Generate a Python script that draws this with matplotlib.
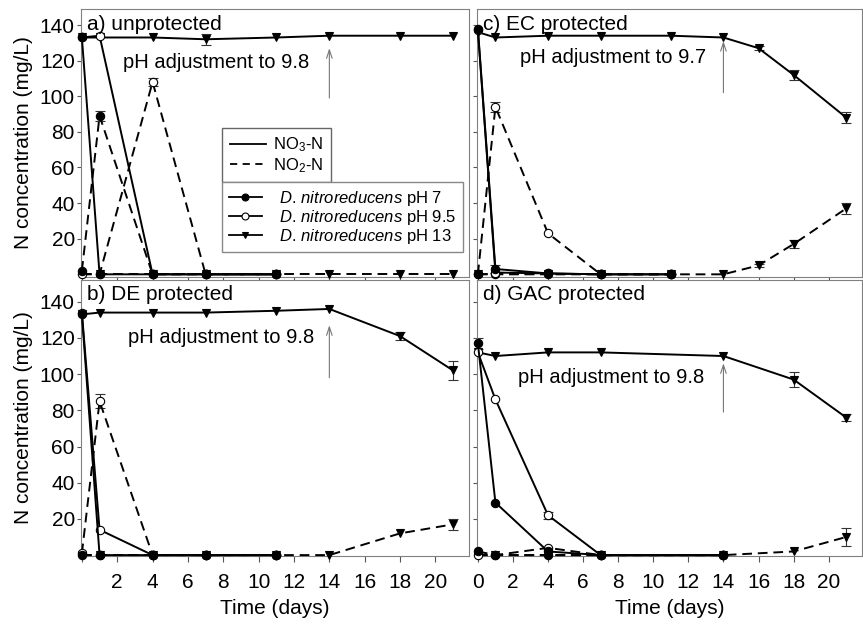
import matplotlib.pyplot as plt
from matplotlib.lines import Line2D

plt.rcParams['font.family'] = ['Liberation Sans', 'DejaVu Sans']
plt.rcParams['mathtext.fontset'] = 'custom'
plt.rcParams['mathtext.rm'] = 'Liberation Sans'
plt.rcParams['mathtext.it'] = 'Liberation Sans:italic'

# ---- data (mg/L) ----
# a) unprotected
a_days = [0, 1, 4, 7, 11]
a_days13 = [0, 1, 4, 7, 11, 14, 18, 21]
a_no3_ph7 = [133, 0, 0, 0, 0]
a_no2_ph7 = [2, 89, 0, 0, 0]
a_no2_ph7_err = [0, 3, 0, 0, 0]
a_no3_ph95 = [133, 134, 0, 0, 0]
a_no2_ph95 = [0, 0, 108, 0, 0]
a_no2_ph95_err = [0, 0, 2, 0, 0]
a_no3_ph13 = [133, 133, 133, 132, 133, 134, 134, 134]
a_no3_ph13_err = [0, 0, 0, 3, 0, 0, 0, 0]
a_no2_ph13 = [0, 0, 0, 0, 0, 0, 0, 0]

# b) DE protected
b_days = [0, 1, 4, 7, 11]
b_days13 = [0, 1, 4, 7, 11, 14, 18, 21]
b_no3_ph7 = [133, 0, 0, 0, 0]
b_no2_ph7 = [0, 0, 0, 0, 0]
b_no3_ph95 = [134, 14, 0, 0, 0]
b_no2_ph95 = [1, 85, 0, 0, 0]
b_no2_ph95_err = [0, 4, 0, 0, 0]
b_no3_ph13 = [133, 134, 134, 134, 135, 136, 121, 102]
b_no3_ph13_err = [0, 0, 0, 0, 0, 0, 2, 5]
b_no2_ph13 = [0, 0, 0, 0, 0, 0, 12, 17]
b_no2_ph13_err = [0, 0, 0, 0, 0, 0, 0, 3]

# c) EC protected
c_days = [0, 1, 4, 7, 11]
c_days13 = [0, 1, 4, 7, 11, 14, 16, 18, 21]
c_no3_ph7 = [138, 3, 0.5, 0, 0]
c_no3_ph7_err = [0, 2, 0, 0, 0]
c_no2_ph7 = [0, 0, 0, 0, 0]
c_no3_ph95 = [137, 1, 0.5, 0, 0]
c_no2_ph95 = [0, 94, 23, 0, 0]
c_no2_ph95_err = [0, 3, 0, 0, 0]
c_no3_ph13 = [136, 133, 134, 134, 134, 133, 127, 112, 88]
c_no3_ph13_err = [0, 0, 0, 0, 0, 0, 1, 3, 3]
c_no2_ph13 = [0, 0, 0, 0, 0, 0, 5, 17, 37]
c_no2_ph13_err = [0, 0, 0, 0, 0, 0, 1, 2, 3]

# d) GAC protected
d_days = [0, 1, 4, 7, 14]
d_days13 = [0, 1, 4, 7, 14, 18, 21]
d_no3_ph7 = [117, 29, 2, 0, 0]
d_no3_ph7_err = [3, 0, 0, 0, 0]
d_no2_ph7 = [2, 0, 0, 0, 0]
d_no3_ph95 = [112, 86, 22, 0, 0]
d_no3_ph95_err = [0, 0, 2, 0, 0]
d_no2_ph95 = [0, 0, 4, 0, 0]
d_no3_ph13 = [112, 110, 112, 112, 110, 97, 76]
d_no3_ph13_err = [0, 0, 0, 0, 0, 4, 2]
d_no2_ph13 = [0, 0, 0, 0, 0, 2, 10]
d_no2_ph13_err = [0, 0, 0, 0, 0, 0, 5]

titles = ['a) unprotected', 'b) DE protected', 'c) EC protected', 'd) GAC protected']
notes = ['pH adjustment to 9.8', 'pH adjustment to 9.8', 'pH adjustment to 9.7', 'pH adjustment to 9.8']
note_xy = [(2.35, 119), (2.6, 120), (2.4, 122), (2.3, 98)]
arrow_y = [(99, 127), (98, 127), (102, 131), (79, 106)]
x_ticks = list(range(0, 21, 2))

DASH = (0, (5, 3))
STYLE = {'ph7': ('o', 'black'), 'ph95': ('o', 'white'), 'ph13': ('v', 'black')}


def plot_series(ax, t, y, ls, kind, err=None):
    marker, face = STYLE[kind]
    if err is not None:
        te = [ti for ti, e in zip(t, err) if e > 0]
        ye = [yi for yi, e in zip(y, err) if e > 0]
        ee = [e for e in err if e > 0]
        ax.errorbar(te, ye, yerr=ee, fmt='none', ecolor='#333333',
                    elinewidth=0.8, capsize=3.5, capthick=0.8, zorder=2)
    ax.plot(t, y, color='black', lw=1.4, ls=ls, marker=marker, ms=6,
            mfc=face, mec='black', mew=0.8, clip_on=False, zorder=3)


fig = plt.figure(figsize=(8.63, 6.24), dpi=100)
W, H = 863.0, 624.0
ax_a = fig.add_axes([81 / W, 1 - 277 / H, 388 / W, 268 / H])
ax_c = fig.add_axes([477 / W, 1 - 277 / H, 385 / W, 268 / H])
ax_b = fig.add_axes([81 / W, 1 - 556 / H, 388 / W, 276 / H])
ax_d = fig.add_axes([477 / W, 1 - 556 / H, 385 / W, 276 / H])

# a
plot_series(ax_a, a_days13, a_no2_ph13, DASH, 'ph13')
plot_series(ax_a, a_days13, a_no3_ph13, '-', 'ph13', a_no3_ph13_err)
plot_series(ax_a, a_days, a_no2_ph95, DASH, 'ph95', a_no2_ph95_err)
plot_series(ax_a, a_days, a_no2_ph7, DASH, 'ph7', a_no2_ph7_err)
plot_series(ax_a, a_days, a_no3_ph95, '-', 'ph95')
plot_series(ax_a, a_days, a_no3_ph7, '-', 'ph7')

# b
plot_series(ax_b, b_days13, b_no2_ph13, DASH, 'ph13', b_no2_ph13_err)
plot_series(ax_b, b_days13, b_no3_ph13, '-', 'ph13', b_no3_ph13_err)
plot_series(ax_b, b_days, b_no2_ph95, DASH, 'ph95', b_no2_ph95_err)
plot_series(ax_b, b_days, b_no2_ph7, DASH, 'ph7')
plot_series(ax_b, b_days, b_no3_ph95, '-', 'ph95')
plot_series(ax_b, b_days, b_no3_ph7, '-', 'ph7')

# c
plot_series(ax_c, c_days13, c_no2_ph13, DASH, 'ph13', c_no2_ph13_err)
plot_series(ax_c, c_days13, c_no3_ph13, '-', 'ph13', c_no3_ph13_err)
plot_series(ax_c, c_days, c_no2_ph95, DASH, 'ph95', c_no2_ph95_err)
plot_series(ax_c, c_days, c_no2_ph7, DASH, 'ph7')
plot_series(ax_c, c_days, c_no3_ph95, '-', 'ph95')
plot_series(ax_c, c_days, c_no3_ph7, '-', 'ph7', c_no3_ph7_err)

# d
plot_series(ax_d, d_days13, d_no2_ph13, DASH, 'ph13', d_no2_ph13_err)
plot_series(ax_d, d_days13, d_no3_ph13, '-', 'ph13', d_no3_ph13_err)
plot_series(ax_d, d_days, d_no2_ph95, DASH, 'ph95')
plot_series(ax_d, d_days, d_no2_ph7, DASH, 'ph7')
plot_series(ax_d, d_days, d_no3_ph95, '-', 'ph95', d_no3_ph95_err)
plot_series(ax_d, d_days, d_no3_ph7, '-', 'ph7', d_no3_ph7_err)

for i, ax in enumerate([ax_a, ax_b, ax_c, ax_d]):
    top = i in (0, 2)
    ax.set_xlim(-0.05, 21.9)
    ax.set_ylim((-1.5, 149) if top else (-0.5, 152))
    ax.set_xticks(x_ticks)
    ax.set_yticks(range(20, 141, 20))
    for s in ax.spines.values():
        s.set_color('#808080')
        s.set_linewidth(0.8)
    ax.tick_params(axis='x', direction='out', length=4, width=0.8,
                   color='#555555', labelsize=15, pad=8)
    ax.tick_params(axis='y', direction='out', length=3, width=0.8,
                   color='#555555', labelsize=15, pad=1.5)
    if top:
        ax.set_xticklabels([])
    if i >= 2:
        ax.set_yticklabels([])
    h = 268 if top else 276
    ax.text(0.015, 1 - 15 / h, titles[i], transform=ax.transAxes,
            ha='left', va='center', fontsize=15)
    ax.text(note_xy[i][0], note_xy[i][1], notes[i], ha='left', va='center',
            fontsize=14.5)
    ax.annotate('', xy=(14, arrow_y[i][1]), xytext=(14, arrow_y[i][0]),
                arrowprops=dict(arrowstyle='->,head_length=0.6,head_width=0.2',
                                color='#777777', lw=0.8, shrinkA=0, shrinkB=0))

ax_b.set_xticklabels([''] + [str(v) for v in x_ticks[1:]])
ax_d.set_xticklabels([str(v) for v in x_ticks])

for ax in (ax_a, ax_b):
    ax.set_ylabel('N concentration (mg/L)', fontsize=15, labelpad=5)
for ax in (ax_b, ax_d):
    ax.set_xlabel('Time (days)', fontsize=15, labelpad=5)

# legends
line_handles = [Line2D([], [], color='black', lw=1.3),
                Line2D([], [], color='black', lw=1.3, ls=(0, (4, 3)))]
fig.legend(line_handles, ['NO$_3$-N', 'NO$_2$-N'], loc='upper left',
           bbox_to_anchor=(222 / W, 1 - 128 / H), bbox_transform=fig.transFigure,
           fancybox=False, edgecolor='#666666', framealpha=1, fontsize=12,
           handlelength=2.2, handletextpad=0.4, borderpad=0.45,
           labelspacing=0.12, borderaxespad=0)

strain_handles = []
for kind in ('ph7', 'ph95', 'ph13'):
    marker, face = STYLE[kind]
    strain_handles.append(Line2D([], [], color='black', lw=1.3, marker=marker,
                                 ms=5, mfc=face, mec='black', mew=0.8))
strain_labels = [r'$\it{D.\,nitroreducens}$ pH 7',
                 r'$\it{D.\,nitroreducens}$ pH 9.5',
                 r'$\it{D.\,nitroreducens}$ pH 13']
fig.legend(strain_handles, strain_labels, loc='upper left', mode='expand',
           bbox_to_anchor=(222 / W, 1 - 245 / H, (463 - 222) / W, (245 - 182) / H),
           bbox_transform=fig.transFigure,
           fancybox=False, edgecolor='#888888', framealpha=1, fontsize=12,
           handlelength=2.0, handletextpad=1.0, borderpad=0.4,
           labelspacing=0.0, borderaxespad=0)

fig.savefig('out.png', dpi=100)
